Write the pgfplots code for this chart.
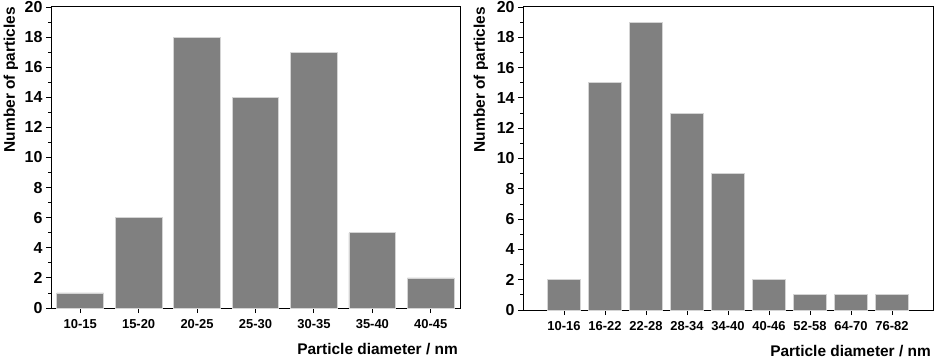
\documentclass[border=0pt]{standalone}
\usepackage{fontspec}
\setmainfont{Liberation Sans}
\usepackage{pgfplots}
\pgfplotsset{compat=1.18}

\definecolor{barfill}{HTML}{808080}
\definecolor{baredge}{HTML}{D4D4D4}

\pgfplotsset{histo/.style={
  scale only axis,
  ybar, bar width=0.8,
  ymin=0, ymax=20, ytick={0,2,...,20}, minor y tick num=1,
  xtick=data,
  axis line style={line width=1pt},
  tick style={line width=0.9pt, black},
  major tick length=5bp, minor tick length=3bp,
  tick align=outside,
  xtick pos=bottom, ytick pos=left,
  /pgf/number format/assume math mode=true,
  xticklabel style={font=\fontsize{13}{13}\selectfont\bfseries, yshift=-3bp},
  yticklabel={\fontsize{16}{16}\selectfont\bfseries\pgfmathprintnumber{\tick}},
  label style={font=\fontsize{15.5}{16}\selectfont\bfseries, inner sep=0pt},
  xlabel style={at={(rel axis cs:1,0)}, anchor=north east, yshift=-35bp, xshift=-2bp},
  xlabel={Particle diameter / nm},
  ylabel={Number of particles},
}}

\begin{document}
\begin{tikzpicture}[x=1bp,y=1bp]
\useasboundingbox (0,0) rectangle (936,358);
\begin{axis}[histo,
  at={(51bp,50bp)}, anchor=south west,
  width=409bp, height=301bp,
  xmin=-0.5, xmax=6.5,
  xticklabels={10-15,15-20,20-25,25-30,30-35,35-40,40-45},
  ylabel style={at={(axis description cs:-0.08,1)}, anchor=south east, rotate=0},
]
\addplot[fill=barfill, draw=baredge, line width=0.8pt] coordinates {(0,1) (1,6) (2,18) (3,14) (4,17) (5,5) (6,2)};
\end{axis}
\begin{axis}[histo,
  at={(523bp,48bp)}, anchor=south west,
  width=410bp, height=303bp,
  xmin=-1, xmax=9,
  xticklabels={10-16,16-22,22-28,28-34,34-40,40-46,52-58,64-70,76-82},
  ylabel style={at={(axis description cs:-0.085,1)}, anchor=south east, rotate=0},
]
\addplot[fill=barfill, draw=baredge, line width=0.8pt] coordinates {(0,2) (1,15) (2,19) (3,13) (4,9) (5,2) (6,1) (7,1) (8,1)};
\end{axis}
\end{tikzpicture}
\end{document}
